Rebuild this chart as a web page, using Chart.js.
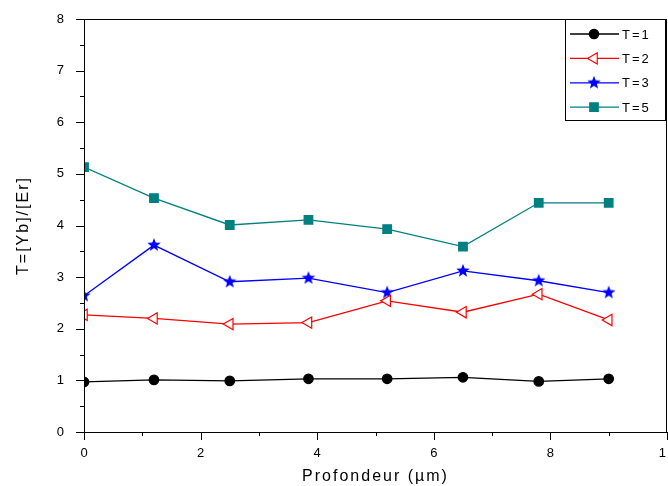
<!DOCTYPE html>
<html>
<head>
<meta charset="utf-8">
<script src="https://cdn.jsdelivr.net/npm/chart.js@4.4.0/dist/chart.umd.min.js"></script>
<style>
  html, body { margin: 0; padding: 0; background: #fff; }
  #wrap { width: 668px; height: 486px; }
</style>
</head>
<body>
<div id="wrap"><canvas id="depthChart" width="668" height="486"></canvas></div>
<script>
// Values
const depth = [0, 1.2, 2.5, 3.85, 5.2, 6.5, 7.8, 9.0];
const ratioT1 = [0.97, 1.01, 0.99, 1.03, 1.03, 1.06, 0.98, 1.03];
const ratioT2 = [2.27, 2.20, 2.09, 2.12, 2.54, 2.32, 2.67, 2.17];
const ratioT3 = [2.64, 3.62, 2.91, 2.98, 2.70, 3.12, 2.93, 2.70];
const ratioT5 = [5.13, 4.53, 4.01, 4.11, 3.93, 3.59, 4.44, 4.44];
const seriesLabels = ["T=1", "T=2", "T=3", "T=5"];
const xTickLabels = [0, 2, 4, 6, 8, 10];

const FONT = "'Liberation Sans', Arial, sans-serif";

// filled five-point star for T=3
function makeStar(color, r) {
    const c = document.createElement("canvas");
    const s = Math.ceil(r * 2 + 2);
    c.width = s; c.height = s;
    const g = c.getContext("2d");
    g.fillStyle = color;
    g.beginPath();
    for (let i = 0; i < 10; i++) {
        const rad = i % 2 === 0 ? r : r * 0.42;
        const a = -Math.PI / 2 + i * Math.PI / 5;
        const px = s / 2 + rad * Math.cos(a), py = s / 2 + rad * Math.sin(a);
        if (i === 0) g.moveTo(px, py); else g.lineTo(px, py);
    }
    g.closePath();
    g.fill();
    return c;
}
const starImg = makeStar("#0000ff", 7);

function pts(ys) {
    return depth.map((x, i) => ({ x: x, y: ys[i] }));
}

// letter spacing like the original figure
const spacing = {
    id: "spacing",
    beforeLayout(chart) { chart.ctx.letterSpacing = "2px"; },
    beforeDraw(chart) { chart.ctx.letterSpacing = "2px"; }
};

// frame, outward ticks, x tick labels and legend box
const frame = {
    id: "frame",
    afterDraw(chart) {
        const ctx = chart.ctx;
        const a = chart.chartArea;
        const xs = chart.scales.x, ys = chart.scales.y;
        ctx.save();
        ctx.strokeStyle = "#000";
        ctx.lineWidth = 1;
        ctx.beginPath();
        for (let v = 0; v <= 8.001; v += 0.5) {
            const py = Math.round(ys.getPixelForValue(v)) + 0.5;
            const len = Math.abs(v - Math.round(v)) < 0.01 ? 8 : 4;
            ctx.moveTo(a.left, py); ctx.lineTo(a.left - len, py);
        }
        for (let v = 0; v <= 10.001; v += 1) {
            const px = Math.round(xs.getPixelForValue(v)) + 0.5;
            const len = v % 2 === 0 ? 8 : 4;
            ctx.moveTo(px, a.bottom); ctx.lineTo(px, a.bottom + len);
        }
        ctx.stroke();
        ctx.strokeRect(Math.round(a.left) + 0.5, Math.round(a.top) + 0.5,
            Math.round(a.right - a.left) - 1, Math.round(a.bottom - a.top));

        ctx.font = "13px " + FONT;
        ctx.fillStyle = "#000";
        ctx.textAlign = "center";
        ctx.textBaseline = "top";
        xTickLabels.forEach(v => {
            ctx.fillText(String(v), xs.getPixelForValue(v) + 1, a.bottom + 15);
        });

        // legend
        const lx = 565.5, ly = 19.5, lw = 100, lh = 101;
        ctx.fillStyle = "#fff";
        ctx.fillRect(lx, ly, lw, lh);
        ctx.strokeRect(lx, ly, lw, lh);
        ctx.textAlign = "left";
        ctx.textBaseline = "middle";
        chart.data.datasets.forEach((ds, i) => {
            const y = 34 + i * 24.4;
            ctx.strokeStyle = ds.borderColor;
            ctx.lineWidth = ds.borderWidth;
            ctx.beginPath();
            ctx.moveTo(570, y); ctx.lineTo(619, y);
            ctx.stroke();
            ctx.fillStyle = ds.pointBackgroundColor;
            ctx.strokeStyle = ds.borderColor;
            ctx.lineWidth = 1.2;
            Chart.helpers.drawPoint(ctx, {
                pointStyle: ds.pointStyle,
                rotation: ds.pointRotation || 0,
                radius: ds.pointRadius,
                borderWidth: 1.2
            }, 594, y);
            ctx.fillStyle = "#000";
            ctx.fillText(ds.label, 622, y + 1);
        });
        ctx.restore();
    }
};

const ctx = document.getElementById("depthChart").getContext("2d");
const chart = new Chart(ctx, {
    type: "scatter",
    data: {
        datasets: [
            {
                label: seriesLabels[0], data: pts(ratioT1), showLine: true, clip: 0,
                borderColor: "#000000", borderWidth: 1.3,
                pointStyle: "circle", pointRadius: 4.7,
                pointBackgroundColor: "#000000", pointBorderColor: "#000000"
            },
            {
                label: seriesLabels[1], data: pts(ratioT2), showLine: true, clip: 0,
                borderColor: "#ff0000", borderWidth: 1.3,
                pointStyle: "triangle", pointRotation: -90, pointRadius: 6.5,
                pointBackgroundColor: "#ffffff", pointBorderColor: "#ff0000", pointBorderWidth: 1.2
            },
            {
                label: seriesLabels[2], data: pts(ratioT3), showLine: true, clip: 0,
                borderColor: "#0000ff", borderWidth: 1.3,
                pointStyle: starImg, pointRadius: 7,
                pointBackgroundColor: "#0000ff", pointBorderColor: "#0000ff"
            },
            {
                label: seriesLabels[3], data: pts(ratioT5), showLine: true, clip: 0,
                borderColor: "#008080", borderWidth: 1.3,
                pointStyle: "rect", pointRadius: 6,
                pointBackgroundColor: "#008080", pointBorderColor: "#008080"
            }
        ]
    },
    options: {
        responsive: false,
        animation: false,
        devicePixelRatio: 1,
        layout: { autoPadding: false, padding: { top: 19, right: 1, bottom: 0, left: 0 } },
        plugins: {
            legend: { display: false },
            tooltip: { enabled: false }
        },
        scales: {
            x: {
                type: "linear", min: 0, max: 10,
                afterFit: (s) => { s.height = 54; },
                grid: { display: false, drawTicks: false },
                border: { display: false },
                ticks: { display: false, stepSize: 2 },
                title: {
                    display: true, text: "Profondeur (µm)", color: "#000",
                    font: { family: FONT, size: 16 }, padding: { top: 0, bottom: 0 }
                }
            },
            y: {
                type: "linear", min: 0, max: 8,
                afterFit: (s) => { s.width = 84; s.paddingTop = 0; s.paddingBottom = 0; },
                grid: { display: false, drawTicks: false },
                border: { display: false },
                ticks: { stepSize: 1, padding: 18, color: "#000", font: { family: FONT, size: 13 } },
                title: {
                    display: true, text: "T=[Yb]/[Er]", color: "#000",
                    font: { family: FONT, size: 16 }, padding: { top: 14, bottom: 0 }
                }
            }
        }
    },
    plugins: [spacing, frame]
});
</script>
</body>
</html>
